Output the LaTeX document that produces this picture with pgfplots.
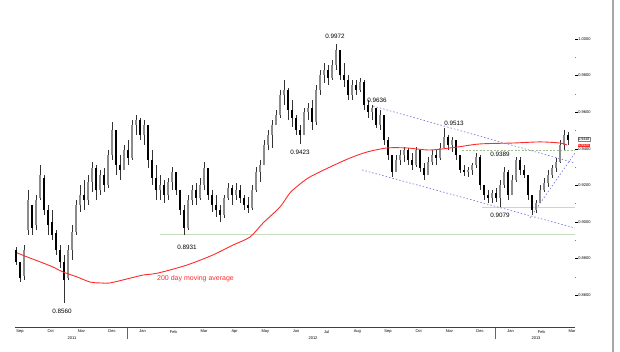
\documentclass[border=0pt]{standalone}
\usepackage{fontspec}
\setmainfont{Liberation Sans}
\usepackage{pgfplots}
\usepackage{pgfplotstable}
\pgfplotsset{compat=1.18}
\definecolor{maRed}{HTML}{FF2A2A}
\definecolor{chanBlue}{HTML}{7070D8}
\definecolor{lvlGreen}{HTML}{C5DDBE}
\definecolor{dashGreen}{HTML}{9DBF8E}
\definecolor{lvlGray}{HTML}{D2D2D2}
\pgfplotstableread{
k h l o c
0 0.8863 0.8765 0.8847 0.8781
1 0.8781 0.8672 0.8781 0.8694
2 0.8874 0.8683 0.8705 0.8847
3 0.9175 0.8929 0.8956 0.9120
4 0.9093 0.8929 0.9093 0.8967
5 0.9147 0.8956 0.8984 0.9120
6 0.9311 0.9120 0.9131 0.9257
7 0.9257 0.9038 0.9240 0.9065
8 0.9093 0.8929 0.9065 0.8984
9 0.9065 0.8902 0.9000 0.8929
10 0.8956 0.8820 0.8940 0.8847
11 0.8874 0.8749 0.8847 0.8781
12 0.8820 0.8560 0.8781 0.8683
13 0.8874 0.8683 0.8694 0.8847
14 0.8984 0.8792 0.8847 0.8945
15 0.9120 0.8929 0.8945 0.9093
16 0.9202 0.9054 0.9093 0.9147
17 0.9229 0.9065 0.9147 0.9120
18 0.9257 0.9093 0.9120 0.9218
19 0.9327 0.9164 0.9218 0.9295
20 0.9311 0.9120 0.9295 0.9175
21 0.9284 0.9147 0.9175 0.9257
22 0.9295 0.9164 0.9257 0.9202
23 0.9393 0.9185 0.9202 0.9366
24 0.9546 0.9338 0.9366 0.9502
25 0.9448 0.9257 0.9502 0.9311
26 0.9366 0.9229 0.9311 0.9284
27 0.9420 0.9284 0.9284 0.9393
28 0.9448 0.9311 0.9393 0.9349
29 0.9557 0.9338 0.9349 0.9530
30 0.9584 0.9475 0.9530 0.9557
31 0.9568 0.9448 0.9557 0.9475
32 0.9557 0.9420 0.9475 0.9530
33 0.9502 0.9295 0.9530 0.9338
34 0.9393 0.9202 0.9338 0.9240
35 0.9311 0.9120 0.9240 0.9175
36 0.9257 0.9120 0.9175 0.9202
37 0.9229 0.9104 0.9202 0.9147
38 0.9240 0.9120 0.9147 0.9218
39 0.9300 0.9175 0.9218 0.9273
40 0.9273 0.9147 0.9273 0.9175
41 0.9175 0.9038 0.9175 0.9065
42 0.9093 0.8931 0.9065 0.8967
43 0.9147 0.8956 0.8967 0.9120
44 0.9202 0.9093 0.9120 0.9175
45 0.9213 0.9093 0.9175 0.9131
46 0.9240 0.9120 0.9131 0.9202
47 0.9327 0.9175 0.9202 0.9295
48 0.9284 0.9120 0.9295 0.9147
49 0.9175 0.9054 0.9147 0.9093
50 0.9147 0.9027 0.9093 0.9065
51 0.9093 0.9000 0.9065 0.9038
52 0.9147 0.9022 0.9038 0.9131
53 0.9213 0.9120 0.9131 0.9185
54 0.9202 0.9093 0.9185 0.9147
55 0.9213 0.9120 0.9147 0.9175
56 0.9202 0.9104 0.9175 0.9131
57 0.9147 0.9065 0.9131 0.9093
58 0.9136 0.9049 0.9093 0.9076
59 0.9202 0.9065 0.9076 0.9175
60 0.9300 0.9164 0.9175 0.9273
61 0.9338 0.9218 0.9273 0.9311
62 0.9448 0.9311 0.9311 0.9420
63 0.9502 0.9393 0.9420 0.9475
64 0.9557 0.9404 0.9475 0.9530
65 0.9611 0.9530 0.9530 0.9584
66 0.9721 0.9568 0.9584 0.9693
67 0.9775 0.9639 0.9693 0.9721
68 0.9732 0.9557 0.9721 0.9611
69 0.9666 0.9519 0.9611 0.9568
70 0.9584 0.9475 0.9568 0.9502
71 0.9530 0.9423 0.9502 0.9475
72 0.9622 0.9475 0.9475 0.9600
73 0.9650 0.9557 0.9600 0.9622
74 0.9666 0.9502 0.9622 0.9546
75 0.9748 0.9530 0.9546 0.9721
76 0.9830 0.9693 0.9721 0.9803
77 0.9868 0.9759 0.9803 0.9830
78 0.9857 0.9748 0.9830 0.9786
79 0.9884 0.9775 0.9786 0.9857
80 0.9972 0.9830 0.9857 0.9939
81 0.9939 0.9775 0.9939 0.9803
82 0.9868 0.9737 0.9803 0.9775
83 0.9803 0.9666 0.9775 0.9693
84 0.9775 0.9666 0.9693 0.9748
85 0.9775 0.9693 0.9748 0.9721
86 0.9786 0.9710 0.9721 0.9764
87 0.9775 0.9611 0.9764 0.9639
88 0.9666 0.9568 0.9639 0.9600
89 0.9636 0.9557 0.9600 0.9622
90 0.9622 0.9513 0.9622 0.9530
91 0.9611 0.9502 0.9530 0.9584
92 0.9584 0.9420 0.9584 0.9448
93 0.9464 0.9338 0.9448 0.9366
94 0.9366 0.9246 0.9366 0.9273
95 0.9366 0.9273 0.9273 0.9338
96 0.9393 0.9311 0.9338 0.9366
97 0.9409 0.9327 0.9366 0.9393
98 0.9404 0.9311 0.9393 0.9338
99 0.9377 0.9284 0.9338 0.9311
100 0.9409 0.9300 0.9311 0.9393
101 0.9393 0.9273 0.9393 0.9295
102 0.9322 0.9229 0.9295 0.9257
103 0.9355 0.9257 0.9257 0.9327
104 0.9393 0.9311 0.9327 0.9366
105 0.9393 0.9311 0.9366 0.9349
106 0.9431 0.9338 0.9349 0.9404
107 0.9513 0.9404 0.9404 0.9464
108 0.9475 0.9393 0.9464 0.9420
109 0.9464 0.9382 0.9420 0.9448
110 0.9448 0.9338 0.9448 0.9366
111 0.9366 0.9267 0.9366 0.9284
112 0.9311 0.9251 0.9284 0.9273
113 0.9300 0.9246 0.9273 0.9284
114 0.9322 0.9257 0.9284 0.9311
115 0.9377 0.9295 0.9311 0.9355
116 0.9366 0.9175 0.9355 0.9202
117 0.9202 0.9120 0.9202 0.9147
118 0.9175 0.9104 0.9147 0.9131
119 0.9175 0.9104 0.9131 0.9158
120 0.9185 0.9109 0.9158 0.9131
121 0.9229 0.9079 0.9131 0.9202
122 0.9300 0.9185 0.9202 0.9273
123 0.9284 0.9120 0.9273 0.9147
124 0.9257 0.9147 0.9147 0.9229
125 0.9355 0.9218 0.9229 0.9338
126 0.9355 0.9257 0.9338 0.9284
127 0.9311 0.9240 0.9284 0.9257
128 0.9257 0.9120 0.9257 0.9147
129 0.9147 0.9038 0.9147 0.9065
130 0.9120 0.9049 0.9065 0.9104
131 0.9202 0.9104 0.9104 0.9175
132 0.9240 0.9164 0.9175 0.9213
133 0.9284 0.9191 0.9213 0.9257
134 0.9311 0.9240 0.9257 0.9295
135 0.9349 0.9273 0.9295 0.9327
136 0.9448 0.9322 0.9327 0.9420
137 0.9502 0.9393 0.9420 0.9475
138 0.9491 0.9420 0.9475 0.9448
}\ohlc
\pgfplotstableread{
k ma
0.25 0.8831
3.5 0.8803
6.75 0.8776
9.25 0.8754
11.75 0.8727
15.25 0.8700
18.5 0.8672
21 0.8667
23.5 0.8667
27.75 0.8689
31.75 0.8710
35.5 0.8721
42.75 0.8765
49.25 0.8820
54.25 0.8874
58.5 0.8918
61.75 0.8994
66 0.9082
68.5 0.9159
71 0.9207
73.5 0.9246
78.5 0.9300
83.5 0.9349
87.75 0.9382
92.75 0.9404
97.75 0.9404
103.5 0.9393
110.25 0.9409
116 0.9426
124.25 0.9431
131 0.9437
136 0.9431
137.75 0.9420
}\matable
\begin{document}
\begin{tikzpicture}
\path[use as bounding box] (0,0) rectangle (620pt,352pt);
\begin{axis}[
  at={(15pt,24pt)}, anchor=south west,
  scale only axis, width=560pt, height=328pt,
  xmin=-0.25, xmax=139.75, ymin=0.8421, ymax=1.0212,
  clip=false,
  axis x line*=bottom, axis y line*=right,
  x axis line style={-, draw=black!75, line width=1pt},
  y axis line style={draw=none},
  xtick={1,8.667,16.333,24,31.667,39.333,47,54.667,62.333,70,77.667,85.333,93,100.667,108.333,116,123.667,131.333,139},
  xticklabels={Sep,Oct,Nov,Dec,Jan,Feb,Mar,Apr,May,Jun,Jul,Aug,Sep,Oct,Nov,Dec,Jan,Feb,Mar},
  major x tick style={draw=none},
  xticklabel style={font=\fontsize{4}{4}\selectfont, inner sep=0.5pt, yshift=1pt},
  ytick={0.86,0.88,0.90,0.92,0.94,0.96,0.98,1.00},
  minor y tick num=1,
  tick align=outside,
  major tick length=2.5pt, minor tick length=1.2pt,
  y tick style={black, line width=0.4pt},
  minor y tick style={black!50},
  yticklabel style={font=\fontsize{4}{4}\selectfont, inner sep=0.6pt,
    /pgf/number format/.cd, fixed, fixed zerofill, precision=4, assume math mode=true},
  scaled y ticks=false,
]
% channel and level lines
\addplot[lvlGreen, line width=1.3pt, forget plot] coordinates {(36,0.8931) (139.75,0.8931)};
\addplot[lvlGray, line width=0.8pt, forget plot] coordinates {(116.5,0.9079) (139.75,0.9079)};
\addplot[dashGreen, line width=0.7pt, dash pattern=on 2pt off 1.5pt, forget plot] coordinates {(111.5,0.9389) (139.75,0.9389)};
\addplot[chanBlue, line width=0.6pt, dash pattern=on 1.5pt off 2pt, forget plot] coordinates {(89.25,0.9633) (139.75,0.9322)};
\addplot[chanBlue, line width=0.6pt, dash pattern=on 1.5pt off 2pt, forget plot] coordinates {(86.5,0.9284) (139.75,0.8967)};
\addplot[chanBlue, line width=0.6pt, dash pattern=on 1.5pt off 2pt, forget plot] coordinates {(128.5,0.9022) (139.75,0.9377)};
% wicks
\addplot[draw=none, mark=none, forget plot,
  error bars/.cd, y dir=minus, y explicit, error mark=none,
  error bar style={line width=0.5pt, draw=black!80}]
  table[x=k, y=h, y error minus expr=\thisrow{h}-\thisrow{l}] {\ohlc};
% down bodies
\addplot[draw=none, mark=none, forget plot,
  restrict expr to domain={\thisrow{c}-\thisrow{o}}{-1:0},
  error bars/.cd, y dir=minus, y explicit, error mark=none,
  error bar style={line width=1.5pt, draw=black}]
  table[x=k, y=o, y error minus expr=\thisrow{o}-\thisrow{c}] {\ohlc};
% up bodies
\addplot[draw=none, mark=none, forget plot,
  restrict expr to domain={\thisrow{c}-\thisrow{o}}{0:1},
  error bars/.cd, y dir=minus, y explicit, error mark=none,
  error bar style={line width=1.5pt, draw=black!45}]
  table[x=k, y=c, y error minus expr=\thisrow{c}-\thisrow{o}] {\ohlc};
% 200 day MA
\addplot[maRed, line width=0.9pt, smooth, forget plot] table[x=k, y=ma] {\matable};
% annotations
\begin{scope}[every node/.style={font=\fontsize{6.3}{6.3}\selectfont, inner sep=0pt}]
\node at (axis cs:11.5,0.8514) {0.8560};
\node at (axis cs:42.75,0.8863) {0.8931};
\node at (axis cs:71,0.9382) {0.9423};
\node at (axis cs:79.75,1.0015) {0.9972};
\node at (axis cs:90.25,0.9666) {0.9636};
\node at (axis cs:109.5,0.9540) {0.9513};
\node at (axis cs:121,0.9371) {0.9389};
\node at (axis cs:121,0.9038) {0.9079};
\end{scope}
\node[anchor=west, text=maRed, font=\fontsize{7}{7}\selectfont, inner sep=0pt] at (axis cs:35.25,0.8689) {200 day moving average};
% year labels and separators
\node[font=\fontsize{4}{4}\selectfont, inner sep=0pt] at ([yshift=-10pt]axis cs:14,0.8421) {2011};
\node[font=\fontsize{4}{4}\selectfont, inner sep=0pt] at ([yshift=-10pt]axis cs:74.25,0.8421) {2012};
\node[font=\fontsize{4}{4}\selectfont, inner sep=0pt] at ([yshift=-10pt]axis cs:130,0.8421) {2013};
\draw[black!60, line width=0.4pt] (axis cs:27.83,0.8421) -- ([yshift=-11pt]axis cs:27.83,0.8421);
\draw[black!60, line width=0.4pt] (axis cs:119.83,0.8421) -- ([yshift=-11pt]axis cs:119.83,0.8421);
% last price boxes
\node[anchor=west, draw=black!50, fill=white, font=\fontsize{3.6}{3.6}\selectfont, inner sep=0.5pt] at (axis cs:140.4,0.9452) {0.9448};
\node[anchor=west, fill=maRed, text=white, font=\fontsize{3.6}{3.6}\selectfont, inner sep=0.5pt] at (axis cs:140.4,0.9418) {0.9420};
\end{axis}
\draw[black!35, line width=1.2pt] (613pt,0) -- (613pt,352pt);
\end{tikzpicture}
\end{document}
